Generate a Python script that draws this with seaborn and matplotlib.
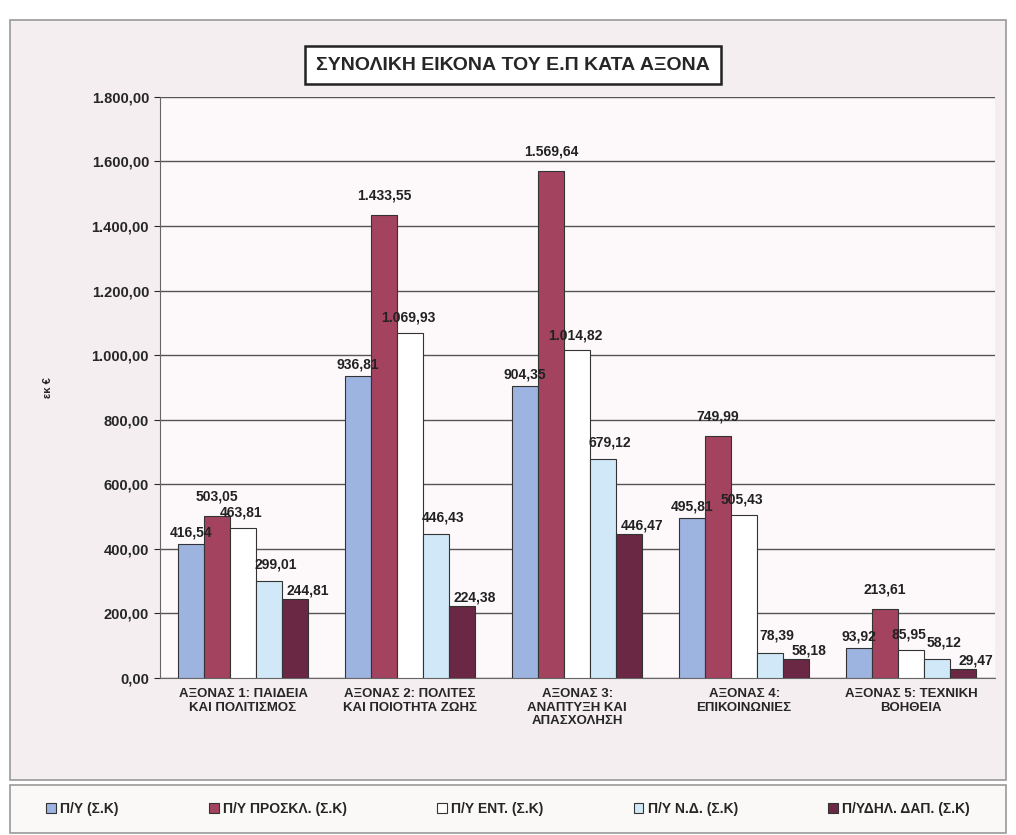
import numpy as np
import pandas as pd
import matplotlib
matplotlib.use("Agg")
import matplotlib.pyplot as plt
from matplotlib.patches import Rectangle
from matplotlib.ticker import FuncFormatter
import seaborn as sns

# data (millions of euro)
axes_labels = [
    "ΑΞΟΝΑΣ 1: ΠΑΙΔΕΙΑ\nΚΑΙ ΠΟΛΙΤΙΣΜΟΣ",
    "ΑΞΟΝΑΣ 2: ΠΟΛΙΤΕΣ\nΚΑΙ ΠΟΙΟΤΗΤΑ ΖΩΗΣ",
    "ΑΞΟΝΑΣ 3:\nΑΝΑΠΤΥΞΗ ΚΑΙ\nΑΠΑΣΧΟΛΗΣΗ",
    "ΑΞΟΝΑΣ 4:\nΕΠΙΚΟΙΝΩΝΙΕΣ",
    "ΑΞΟΝΑΣ 5: ΤΕΧΝΙΚΗ\nΒΟΗΘΕΙΑ",
]
series_names = ["Π/Υ (Σ.Κ)", "Π/Υ ΠΡΟΣΚΛ. (Σ.Κ)", "Π/Υ ΕΝΤ. (Σ.Κ)",
                "Π/Υ Ν.Δ. (Σ.Κ)", "Π/ΥΔΗΛ. ΔΑΠ. (Σ.Κ)"]
py_sk = [416.54, 936.81, 904.35, 495.81, 93.92]
py_proskl = [503.05, 1433.55, 1569.64, 749.99, 213.61]
py_ent = [463.81, 1069.93, 1014.82, 505.43, 85.95]
py_nd = [299.01, 446.43, 679.12, 78.39, 58.12]
py_dil_dap = [244.81, 224.38, 446.47, 58.18, 29.47]

colors = ["#9DB3E0", "#A3435F", "#FFFFFF", "#D0E8F8", "#6A2844"]

series = [py_sk, py_proskl, py_ent, py_nd, py_dil_dap]
df = pd.DataFrame({
    "axis": np.tile(axes_labels, len(series_names)),
    "series": np.repeat(series_names, len(axes_labels)),
    "value": np.concatenate(series),
})


def gr_num(v, pos=None):
    s = f"{v:,.2f}"
    return s.replace(",", "X").replace(".", ",").replace("X", ".")


sns.set_style("white")
plt.rcParams["font.family"] = ["Liberation Sans", "DejaVu Sans"]

fig = plt.figure(figsize=(10.16, 8.35), dpi=100, facecolor="white")
# outer chart frame + legend frame (behind the axes)
fig.patches.append(Rectangle((0.010, 0.066), 0.980, 0.910, transform=fig.transFigure,
                             facecolor="#f4eef0", edgecolor="#9a9a9a", lw=1.2, zorder=-10))
fig.patches.append(Rectangle((0.010, 0.002), 0.980, 0.058, transform=fig.transFigure,
                             facecolor="#fbf8f8", edgecolor="#9a9a9a", lw=1.2, zorder=-10))

ax = fig.add_axes([0.157, 0.188, 0.822, 0.696])
ax.set_facecolor("#fdf9fa")
sns.barplot(data=df, x="axis", y="value", hue="series", palette=colors,
            saturation=1, width=0.78, edgecolor="#333333", linewidth=0.8,
            ax=ax, legend=True, zorder=3)

# value labels: small per-series offsets (points) so neighbours don't collide
dx = [0, 0, -1.5, 5, 9]
dy = [3, 9, 6, 7, 1]
for i, cont in enumerate(ax.containers):
    for b in cont:
        ax.annotate(gr_num(b.get_height()),
                    (b.get_x() + b.get_width() / 2, b.get_height()),
                    xytext=(dx[i], dy[i]), textcoords="offset points",
                    ha="center", va="bottom", fontsize=10, fontweight="bold",
                    color="#222222", zorder=5)

ax.set_ylim(0, 1800)
ax.set_yticks(np.arange(0, 1801, 200))
ax.yaxis.set_major_formatter(FuncFormatter(gr_num))
ax.grid(axis="y", color="#555555", lw=1.0, zorder=0)
ax.set_axisbelow(True)
ax.tick_params(axis="y", labelsize=10.5, length=4, left=True)
ax.tick_params(axis="x", labelsize=9.5, length=0, pad=7)
for t in ax.get_xticklabels() + ax.get_yticklabels():
    t.set_fontweight("bold")
ax.set_xlabel("")
ax.set_ylabel("εκ €", fontsize=8, fontweight="bold", labelpad=28)
for s in ["top", "right"]:
    ax.spines[s].set_visible(False)
ax.spines["left"].set_color("#666666")
ax.spines["bottom"].set_color("#666666")

handles, labels = ax.get_legend_handles_labels()
ax.get_legend().remove()
fig.legend(handles, labels, loc="center", bbox_to_anchor=(0.5, 0.031), ncol=5,
           frameon=False, handlelength=0.7, handleheight=0.7,
           handletextpad=0.3, columnspacing=6.5,
           prop={"weight": "bold", "size": 10})

fig.text(0.505, 0.922, "ΣΥΝΟΛΙΚΗ ΕΙΚΟΝΑ ΤΟΥ Ε.Π ΚΑΤΑ ΑΞΟΝΑ", ha="center", va="center",
         fontsize=14, fontweight="bold",
         bbox=dict(boxstyle="square,pad=0.55", facecolor="white", edgecolor="#222222", lw=1.8))

fig.savefig("out.png", dpi=100, facecolor=fig.get_facecolor())
